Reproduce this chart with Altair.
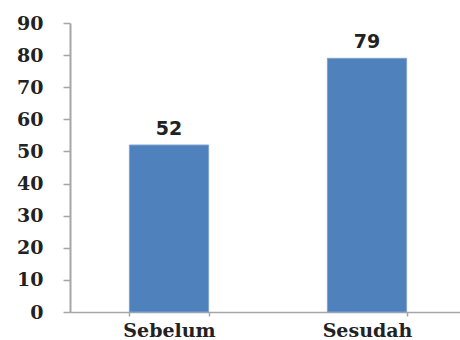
import altair as alt
import pandas as pd

categories = ["Sebelum", "Sesudah"]
values = [52, 79]

df = pd.DataFrame({"cat": categories, "val": values})

x = alt.X("cat:N", sort=categories, title=None,
          scale=alt.Scale(range=[0, 396], paddingInner=0.6, paddingOuter=0.3),
          axis=alt.Axis(labelAngle=0, tickBand="extent", tickSize=4, labelPadding=5,
                        labelFont="DejaVu Serif", labelFontWeight="bold", labelFontSize=19,
                        labelColor="#222222", domainColor="#A6A6A6", tickColor="#A6A6A6",
                        domainWidth=1.5, tickWidth=1.5))
y = alt.Y("val:Q", title=None,
          scale=alt.Scale(domain=[0, 90], nice=False),
          axis=alt.Axis(values=list(range(0, 91, 10)), tickSize=7, labelPadding=20,
                        labelFont="DejaVu Serif", labelFontWeight="bold", labelFontSize=19,
                        labelColor="#222222", domainColor="#A6A6A6", tickColor="#A6A6A6",
                        domainWidth=2, tickWidth=1.5, grid=False))

bars = alt.Chart(df).mark_bar(color="#4F81BD", stroke="#7FA3D0", strokeWidth=1).encode(x=x, y=y)
labels = alt.Chart(df).mark_text(baseline="bottom", dy=-6, font="DejaVu Sans",
                                 fontWeight="bold", fontSize=19, color="#222222").encode(
    x=x, y=y, text="val:Q")

chart = (bars + labels).properties(
    width=390, height=289,
    padding={"left": 70, "top": 23, "right": 0, "bottom": 28},
    autosize=alt.AutoSizeParams(type="none"),
).configure_view(stroke=None)

chart.save("out.html", embed_options={"renderer": "svg", "actions": False})
